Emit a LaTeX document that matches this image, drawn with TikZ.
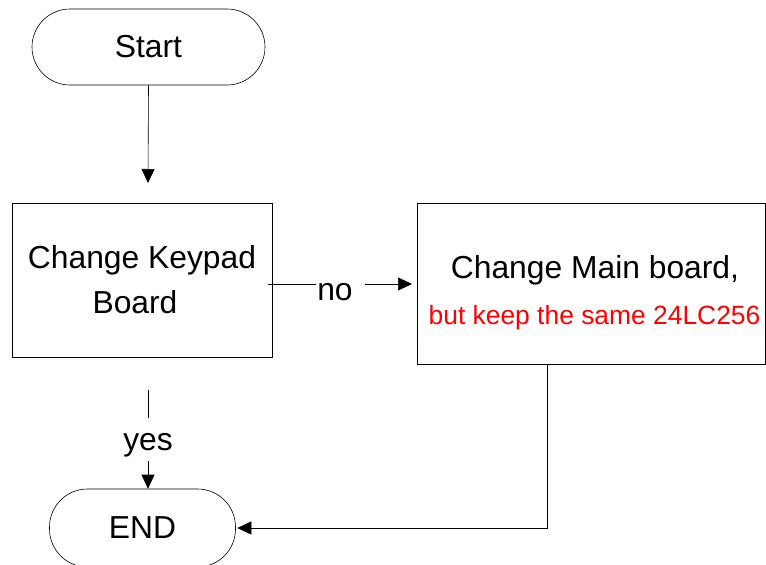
\documentclass[tikz,border=0pt]{standalone}
\usepackage{fontspec}
\setmainfont{Liberation Sans}
\usetikzlibrary{arrows.meta,calc}
\begin{document}
\begin{tikzpicture}[x=1pt,y=-1pt,line width=0.6pt,
  term/.style={draw, rounded corners=38pt, inner sep=0pt},
  procbox/.style={draw, inner sep=0pt},
  big/.style={font=\fontsize{31.8}{45}\selectfont},
  redtxt/.style={font=\fontsize{26.4}{30}\selectfont, text=red},
  arr/.style={-{Triangle[length=14pt,width=13pt]}}]
\useasboundingbox (0,0) rectangle (766,565);
\node[term, minimum width=233pt, minimum height=76pt, big] (start) at (148.5,47) {Start};
\node[procbox, minimum width=260pt, minimum height=154pt, big, align=center] (keypad) at (142,280) {Change Keypad\\Board\rule{14pt}{0pt}};
\node[procbox, minimum width=348pt, minimum height=161pt] (main) at (591,283.5) {};
\node[big] (maintxt) at (595,270) {Change Main board,};
\node[redtxt] (redline) at (594.5,318) {but keep the same 24LC256};
\node[term, minimum width=186pt, minimum height=78pt, big] (end) at (142.5,528) {END};
\coordinate (a1) at (148,183);
\draw[arr] (start.south) -- (a1);
% yes
\coordinate (y0) at (148,390);
\coordinate (y1) at (148,418);
\node[big, inner sep=0pt] (yes) at (148,445) {yes};
\coordinate (y2) at (148,461);
\draw (y0) -- (y1);
\draw[arr] (y2) -- (y2 |- end.north);
% no
\coordinate (n0) at (268,284);
\coordinate (n1) at (316,284);
\node[big, inner sep=0pt] (no) at (335,292) {no};
\coordinate (n2) at (365,284);
\coordinate (n3) at (412,284);
\draw (n0) -- (n1);
\draw[arr] (n2) -- (n3);
% main to end
\coordinate (m0) at ($(main.south)+(-44,0)$);
\draw[arr] (m0) |- ($(end.east)+(1.5,0)$);
\end{tikzpicture}
\end{document}
